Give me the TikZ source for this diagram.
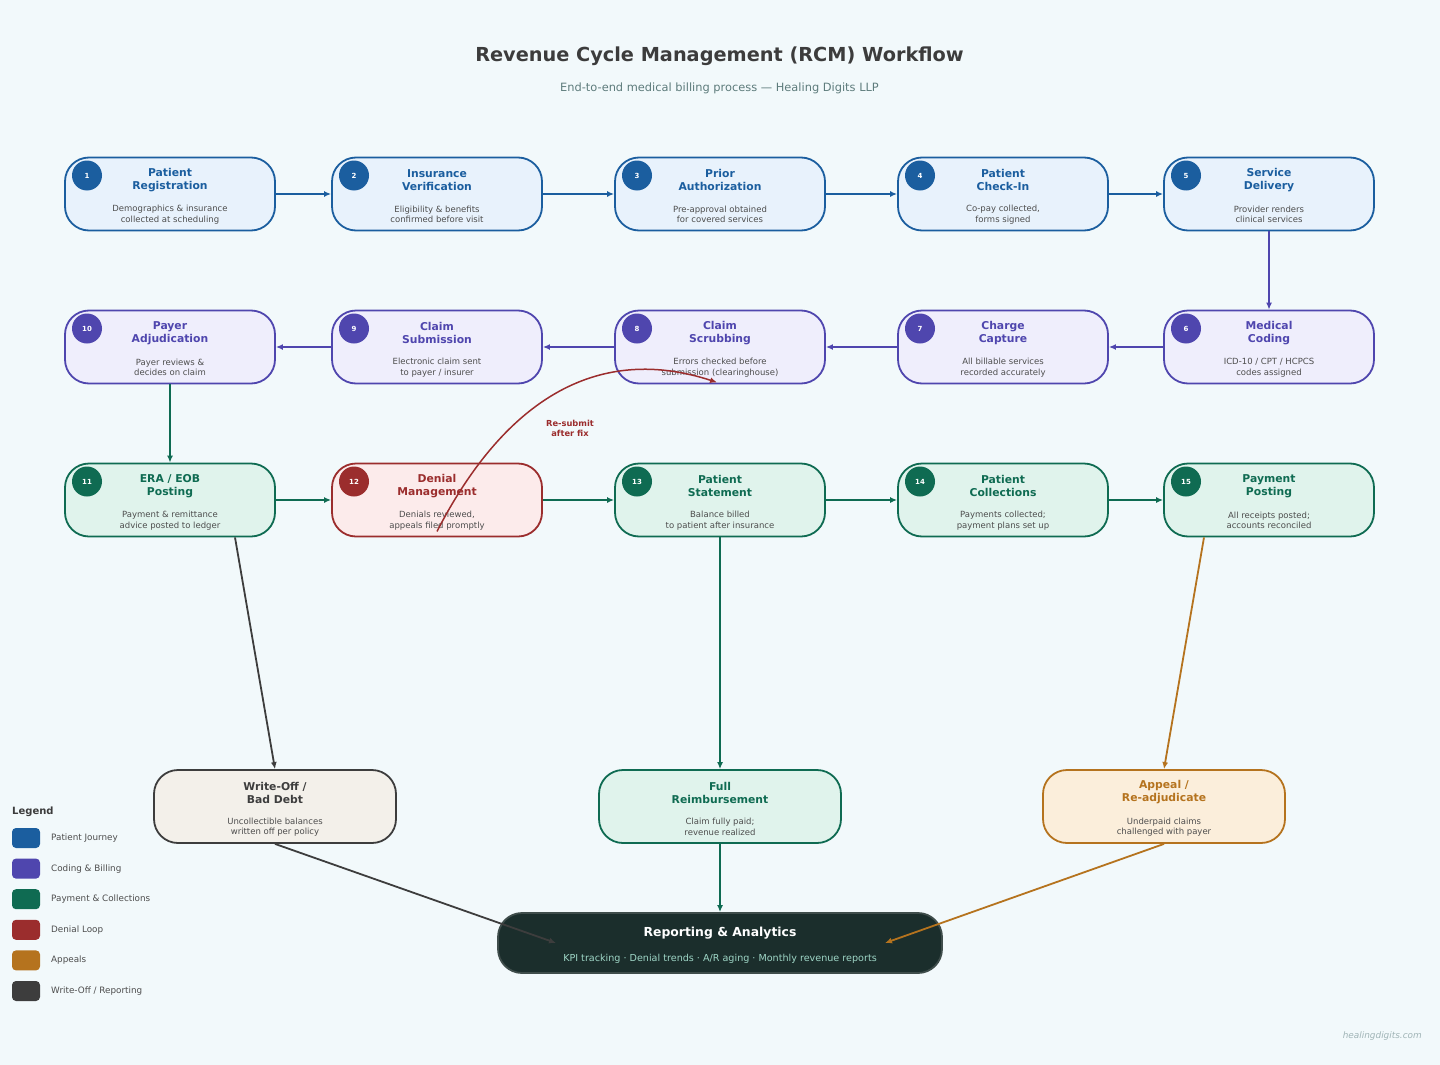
\documentclass[tikz,border=0pt]{standalone}
\usepackage{fontspec}
\setmainfont{DejaVu Sans}
\usepackage{tikz}
\usetikzlibrary{positioning,calc,arrows.meta}
\definecolor{bgcol}{HTML}{F2F9FB}
\definecolor{jour}{HTML}{1B5E9F}
\definecolor{jourfill}{HTML}{E8F2FC}
\definecolor{code}{HTML}{4F46AE}
\definecolor{codefill}{HTML}{EFEEFC}
\definecolor{pay}{HTML}{0F6B52}
\definecolor{payfill}{HTML}{E0F3EC}
\definecolor{deny}{HTML}{9B2D2D}
\definecolor{denyfill}{HTML}{FCEBEB}
\definecolor{appl}{HTML}{B5731E}
\definecolor{applfill}{HTML}{FBEEDB}
\definecolor{wroff}{HTML}{3D3D3D}
\definecolor{wrofffill}{HTML}{F3F0EA}
\definecolor{repfill}{HTML}{1B2E2C}
\definecolor{repline}{HTML}{3F4D4B}
\definecolor{repsub}{HTML}{9ED6C6}
\definecolor{desc}{HTML}{4D4D4D}
\definecolor{headcol}{HTML}{3C3C3C}
\definecolor{subcol}{HTML}{5E7C7C}
\definecolor{markcol}{HTML}{A0B4B6}
% stage box: name, x, y, colour, number, title, description
\newcommand{\stage}[7]{%
  \node[stagebox, draw=#4, fill=#4fill] (#1) at (#2,#3) {};
  \node[badge, fill=#4] (#1b) at (#2-83,#3-18.5) {#5};
  \node[ttl, text=#4] (#1t) at (#2,#3-14) {#6};
  \node[dsc] (#1d) at (#2,#3+20.5) {#7};}
% outcome box: name, x, y, colour, title, description
\newcommand{\outcome}[6]{%
  \node[outbox, draw=#4, fill=#4fill] (#1) at (#2,#3) {};
  \node[ttl, text=#4] (#1t) at (#2,#3-14) {#5};
  \node[dsc] (#1d) at (#2,#3+20.5) {#6};}

\begin{document}
\begin{tikzpicture}[x=1pt,y=-1pt]
\tikzstyle{stagebox}=[rectangle, rounded corners=24pt, minimum width=210pt, minimum height=73pt, line width=1.8pt, inner sep=0pt]
\tikzstyle{outbox}=[stagebox, minimum width=242pt]
\tikzstyle{badge}=[circle, minimum size=30pt, inner sep=0pt, text=white, font=\fontsize{7}{8}\selectfont\bfseries]
\tikzstyle{ttl}=[align=center, inner sep=0pt, font=\fontsize{10.8}{13}\selectfont\bfseries]
\tikzstyle{dsc}=[align=center, inner sep=0pt, text=desc, font=\fontsize{8.5}{10.5}\selectfont]
\tikzstyle{flow}=[-{Latex[length=7pt,width=6pt]}, line width=1.8pt]
\tikzstyle{swatch}=[rectangle, rounded corners=4pt, minimum width=28pt, minimum height=20pt, inner sep=0pt]

\fill[bgcol] (0,0) rectangle (1440,1065);
\useasboundingbox (0,0) rectangle (1440,1065);

\node[text=headcol, font=\fontsize{19.3}{23}\selectfont\bfseries] (head) at (719.5,56) {Revenue Cycle Management (RCM) Workflow};
\node[text=subcol, font=\fontsize{11.4}{14}\selectfont] (subhead) at (719.5,88) {End-to-end medical billing process — Healing Digits LLP};

% row 1
\stage{s1}{170}{194}{jour}{1}{Patient\\Registration}{Demographics \& insurance\\collected at scheduling}
\stage{s2}{437}{194}{jour}{2}{Insurance\\Verification}{Eligibility \& benefits\\confirmed before visit}
\stage{s3}{720}{194}{jour}{3}{Prior\\Authorization}{Pre-approval obtained\\for covered services}
\stage{s4}{1003}{194}{jour}{4}{Patient\\Check-In}{Co-pay collected,\\forms signed}
\stage{s5}{1269}{194}{jour}{5}{Service\\Delivery}{Provider renders\\clinical services}
% row 2
\stage{s6}{1269}{347}{code}{6}{Medical\\Coding}{ICD-10 / CPT / HCPCS\\codes assigned}
\stage{s7}{1003}{347}{code}{7}{Charge\\Capture}{All billable services\\recorded accurately}
\stage{s8}{720}{347}{code}{8}{Claim\\Scrubbing}{Errors checked before\\submission (clearinghouse)}
\stage{s9}{437}{347}{code}{9}{Claim\\Submission}{Electronic claim sent\\to payer / insurer}
\stage{s10}{170}{347}{code}{10}{Payer\\Adjudication}{Payer reviews \&\\decides on claim}
% row 3
\stage{s11}{170}{500}{pay}{11}{ERA / EOB\\Posting}{Payment \& remittance\\advice posted to ledger}
\stage{s12}{437}{500}{deny}{12}{Denial\\Management}{Denials reviewed,\\appeals filed promptly}
\stage{s13}{720}{500}{pay}{13}{Patient\\Statement}{Balance billed\\to patient after insurance}
\stage{s14}{1003}{500}{pay}{14}{Patient\\Collections}{Payments collected;\\payment plans set up}
\stage{s15}{1269}{500}{pay}{15}{Payment\\Posting}{All receipts posted;\\accounts reconciled}
% outcomes
\outcome{wo}{275}{806.5}{wroff}{Write-Off /\\Bad Debt}{Uncollectible balances\\written off per policy}
\outcome{full}{720}{806.5}{pay}{Full\\Reimbursement}{Claim fully paid;\\revenue realized}
\outcome{app}{1164}{806.5}{appl}{Appeal /\\Re-adjudicate}{Underpaid claims\\challenged with payer}

\node[rectangle, rounded corners=24pt, minimum width=444pt, minimum height=60pt, fill=repfill, draw=repline, line width=1.8pt] (rep) at (720,943) {};
\node[text=white, font=\fontsize{12.4}{15}\selectfont\bfseries] (rept) at (720,933) {Reporting \& Analytics};
\node[text=repsub, font=\fontsize{9.6}{12}\selectfont] (repd) at (720,959) {KPI tracking · Denial trends · A/R aging · Monthly revenue reports};

\draw[flow, jour] (s1) -- (s2);
\draw[flow, jour] (s2) -- (s3);
\draw[flow, jour] (s3) -- (s4);
\draw[flow, jour] (s4) -- (s5);
\draw[flow, code] (s5) -- (s6);
\draw[flow, code] (s6) -- (s7);
\draw[flow, code] (s7) -- (s8);
\draw[flow, code] (s8) -- (s9);
\draw[flow, code] (s9) -- (s10);
\draw[flow, pay] (s10) -- (s11);
\draw[flow, pay] (s11) -- (s12);
\draw[flow, pay] (s12) -- (s13);
\draw[flow, pay] (s13) -- (s14);
\draw[flow, pay] (s14) -- (s15);
\draw[flow, wroff] ($(s11.south)+(65,0)$) -- (wo.north);
\draw[flow, pay] (s13) -- (full);
\draw[flow, appl] ($(s15.south)+(-65,0)$) -- (app.north);
\draw[flow, wroff] (wo.south) -- ($(rep.center)+(-164,0)$);
\draw[flow, pay] (full) -- (rep);
\draw[flow, appl] (app.south) -- ($(rep.center)+(165,0)$);

% re-submit loop
\draw[-{Latex[length=7pt,width=6pt]}, deny, line width=1.5pt] ($(s12.south)+(0,-6)$) .. controls +(70,-136) and +(-116,-38) .. ($(s8.south)+(-3,-2)$);
\node[align=center, text=deny, font=\fontsize{8.3}{10}\selectfont\bfseries] (rsl) at (570,428) {Re-submit\\after fix};

% legend
\node[anchor=west, inner sep=0pt, text=headcol, font=\fontsize{10}{12}\selectfont\bfseries] (lgh) at (12,812) {Legend};
\foreach \c/\t [count=\i] in {jour/{Patient Journey}, code/{Coding \& Billing}, pay/{Payment \& Collections}, deny/{Denial Loop}, appl/{Appeals}, wroff/{Write-Off / Reporting}}{
  \node[swatch, fill=\c] (lg\i) at (26,838+30.6*\i-30.6) {};
  \node[anchor=west, inner sep=0pt, text=desc, font=\fontsize{8.8}{10}\selectfont] (lgt\i) at (51,838+30.6*\i-30.6) {\t};
}

\node[anchor=east, inner sep=0pt, text=markcol, font=\fontsize{8.9}{10}\selectfont\itshape] (mark) at (1422,1036) {healingdigits.com};
\end{tikzpicture}
\end{document}
